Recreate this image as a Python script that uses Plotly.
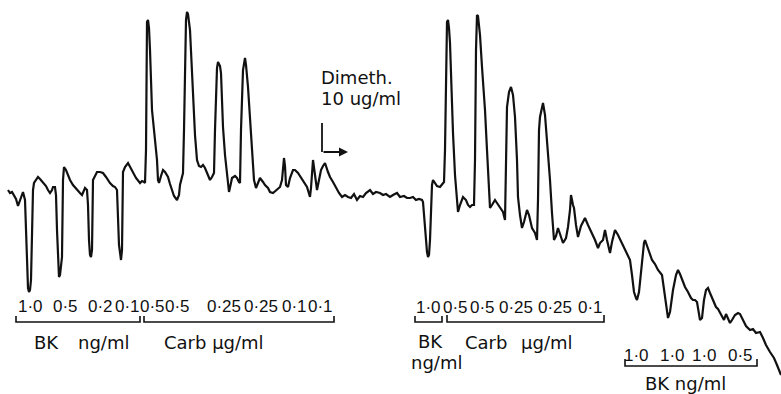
import plotly.graph_objects as go

# Chart-recorder trace (time units, response units; y grows downward)
time = [8,10,12,14,16,18,20,22,23,25,26,27,28,29,30,31,32,33,34,36,38,40,43,46,48,50,52,53,55,56,57,58,59,60,61,62,63,64,66,68,70,73,77,80,82,84,85,87,88,89,90,91,92,93,95,97,100,103,106,110,113,115,117,118,119,121,122,123,125,128,130,133,136,140,142,144,145,146,146.5,147,148,149,150,151,152,153,155,157,158,159,161,163,165,168,170,172,174,177,179,180,182,183,184,185,186,187,188,190,192,193,195,197,199,201,203,205,208,210,212,214,215,216,217,218,220,221,222,223,225,227,229,231,232,235,237,239,240,241,242,243,245,246,248,250,251,253,254,256,258,260,263,265,268,270,273,276,280,282,284,285,286,288,290,293,295,298,301,304,307,310,311,313,315,317,319,321,323,325,328,330,333,336,339,342,345,348,351,354,357,360,363,366,370,373,376,380,383,386,390,393,397,400,404,407,410,413,416,419,422,423,424,425,427,428,429,430,431,432,433,435,437,440,442,444,445,446,447,448,449,450,451,453,455,457,458,460,463,466,468,470,472,474,475,476,477,478,480,482,485,487,489,490,492,495,497,500,503,505,506,507,509,511,513,515,517,518,520,522,524,527,529,532,535,537,538,539,540,542,543,545,547,550,552,554,556,558,560,563,566,568,570,571,573,574,576,578,581,585,588,592,595,598,600,603,605,607,610,612,615,618,622,625,627,630,632,634,636,637,639,641,642,644,645,648,652,655,658,662,664,666,668,670,673,676,678,680,683,685,688,691,693,695,697,698,700,702,704,706,708,710,713,716,718,720,722,724,726,728,730,732,735,738,740,743,746,750,753,756,760,763,766,770,774,777,781]
response = [190,193,192,196,199,206,201,196,192,200,230,270,288,292,290,280,240,190,183,180,177,179,182,186,190,193,190,187,187,195,230,265,277,275,268,257,180,167,170,176,180,185,190,193,195,190,188,190,205,240,255,257,250,180,175,172,172,173,177,183,186,187,190,210,245,260,250,172,167,163,167,173,178,183,181,182,183,150,60,22,20,28,50,85,110,120,140,160,180,183,176,170,172,177,184,190,196,200,195,185,178,173,130,60,20,12,14,30,70,100,135,160,166,167,165,168,175,180,177,173,130,93,68,62,66,73,100,127,155,177,192,183,178,176,178,182,183,130,87,70,58,65,87,115,133,165,180,188,182,178,182,185,188,192,193,190,187,180,158,166,185,187,178,170,170,173,178,182,187,197,188,160,178,190,180,170,166,163,172,177,182,188,193,197,195,197,198,194,200,196,197,193,190,194,192,193,195,194,197,195,193,197,196,198,198,197,200,199,200,202,215,235,252,257,255,240,215,185,180,183,186,187,185,182,150,60,22,20,28,43,80,133,175,205,212,205,197,200,205,207,205,205,160,50,15,16,35,67,110,150,190,208,205,200,203,207,212,220,170,107,92,87,95,117,160,197,215,228,222,210,215,228,233,240,200,130,117,106,103,115,140,180,213,240,236,228,234,243,238,227,210,195,205,208,225,237,226,218,225,233,240,248,243,240,230,240,253,242,230,235,243,250,253,260,275,292,298,300,292,270,260,243,240,248,260,264,270,275,290,308,318,312,290,275,270,274,282,287,292,298,300,300,302,310,320,318,300,290,288,293,300,307,309,313,317,320,314,318,323,320,315,313,314,320,326,330,329,333,332,338,345,352,358,365,375]

# Dose labels
bk1_doses = ["1·0", "0·5", "0·2", "0·1"]
carb1_doses = ["0·5", "0·5", "0·25", "0·25", "0·1", "0·1"]
mid_doses = ["1·0", "0·5", "0·5", "0·25", "0·25", "0·1"]
bk2_doses = ["1·0", "1·0", "1·0", "0·5"]

bk1_x = [30, 65, 100, 127]
carb1_x = [152, 177, 224, 261, 294, 320]
mid_x = [428, 455, 482, 516, 555, 590]
bk2_x = [636, 672, 704, 740]

fig = go.Figure()
fig.add_trace(go.Scatter(x=time, y=response, mode="lines",
                         line=dict(color="#111111", width=2.2), hoverinfo="skip"))

num_font = dict(family="Liberation Sans", size=17, color="#111111")
word_font = dict(family="DejaVu Sans", size=18, color="#111111")

def add_nums(labels, xs, y):
    for t, x in zip(labels, xs):
        fig.add_annotation(x=x, y=y, text=t, showarrow=False, font=num_font,
                           xanchor="center", yanchor="middle")

add_nums(bk1_doses, bk1_x, 306)
add_nums(carb1_doses, carb1_x, 306)
add_nums(mid_doses, mid_x, 307)
add_nums(bk2_doses, bk2_x, 355)

def add_word(text, x, y, anchor="left"):
    fig.add_annotation(x=x, y=y, text=text, showarrow=False, font=word_font,
                       xanchor=anchor, yanchor="middle")

add_word("BK", 32, 342)
add_word("ng/ml", 76, 342)
add_word("Carb µg/ml", 162, 342)
add_word("BK", 416, 341)
add_word("ng/ml", 409, 362)
add_word("Carb", 463, 342)
add_word("µg/ml", 519, 342)
add_word("BK ng/ml", 643, 383)
add_word("Dimeth.", 319, 77)
add_word("10 ug/ml", 319, 98)

# Brackets
def bracket(x0, x1, ytop, ybot):
    fig.add_shape(type="path", path=f"M {x0},{ytop} L {x0},{ybot} L {x1},{ybot} L {x1},{ytop}",
                  line=dict(color="#111111", width=1.6))

bracket(16, 140, 316, 322)
bracket(144, 334, 316, 322)
bracket(415, 442, 316, 322)
bracket(447, 604, 315, 322)
bracket(625, 757, 359, 366)

# Dimeth. start marker
fig.add_shape(type="line", x0=322, y0=123, x1=322, y1=152, line=dict(color="#111111", width=1.8))
fig.add_annotation(x=348, y=152, ax=322, ay=152, axref="x", ayref="y", xref="x", yref="y",
                   showarrow=True, arrowhead=2, arrowsize=1, arrowwidth=1.8,
                   arrowcolor="#111111", text="")

fig.update_layout(width=781, height=394, margin=dict(l=0, r=0, t=0, b=0),
                  plot_bgcolor="white", paper_bgcolor="white", showlegend=False)
fig.update_xaxes(range=[0, 781], visible=False)
fig.update_yaxes(range=[394, 0], visible=False)

fig.write_html("out.html", config={"displayModeBar": False},
               post_script="document.body.style.margin='0';document.body.style.overflow='hidden';")
